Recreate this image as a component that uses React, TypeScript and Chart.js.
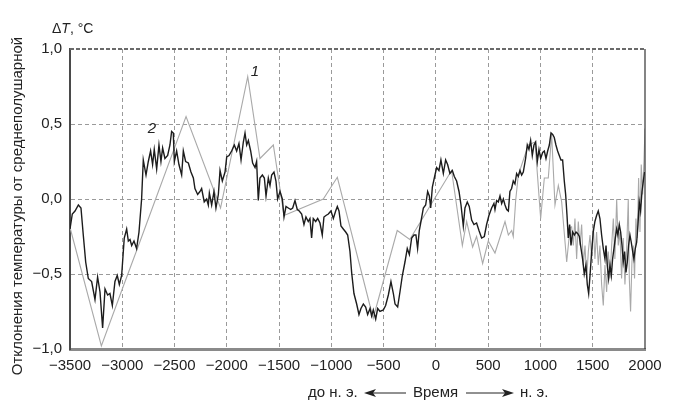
import { useEffect, useRef } from "react";
import Chart from "chart.js/auto";

const FONT = "'Liberation Sans', Arial, sans-serif";
const INK = "#222";

// кривая 1 (серая): годы и отклонения, °C
const years1 = [
  -3500, -3200, -3000, -2850, -2390, -2060, -1800, -1683, -1555, -1453,
  -1077, -943, -600, -370, -250, 150, 253, 294, 351, 389,
  447, 501, 565, 661, 693, 725, 740, 763, 788, 884,
  948, 1002, 1037, 1075, 1107, 1139, 1171, 1203, 1251, 1283,
  1298, 1314, 1330, 1346, 1362, 1378, 1394, 1410, 1426, 1442,
  1458, 1474, 1490, 1505, 1521, 1537, 1553, 1569, 1585, 1601,
  1617, 1633, 1649, 1665, 1681, 1697, 1712, 1729, 1744, 1760,
  1776, 1792, 1808, 1824, 1840, 1850, 1862, 1875, 1888, 1900,
  1913, 1926, 1939, 1952, 1964, 1977, 1990, 2000,
];
const anomaly1 = [
  -0.19, -0.98, -0.6, -0.32, 0.55, -0.06, 0.815, 0.27, 0.36, -0.11,
  0, 0.145, -0.795, -0.21, -0.27, 0.19, -0.31, -0.15, -0.32, -0.25,
  -0.43, -0.28, -0.36, -0.15, -0.24, -0.21, -0.25, -0.01, 0.16, 0.36,
  0.38, -0.13, 0.14, 0.14, 0.43, -0.04, 0.09, -0.02, -0.42, -0.19,
  -0.185, -0.31, -0.13, -0.4, -0.15, -0.31, -0.17, -0.44, -0.31, -0.53,
  -0.35, -0.24, -0.4, -0.17, -0.4, -0.22, -0.44, -0.31, -0.57, -0.71,
  -0.44, -0.62, -0.35, -0.53, -0.31, -0.13, -0.4, 0, -0.31, -0.22,
  -0.53, -0.26, -0.57, -0.35, 0, -0.53, -0.75, -0.42, -0.31, -0.53,
  -0.13, -0.26, 0.14, -0.22, 0.23, 0.03, 0.25, 0.47,
];

// кривая 2 (чёрная)
const years2 = [
  -3500, -3478, -3452, -3420, -3395, -3373, -3350, -3325, -3293, -3261,
  -3236, -3213, -3188, -3165, -3140, -3118, -3095, -3070, -3048, -3028,
  -3006, -2981, -2958, -2942, -2926, -2910, -2888, -2863, -2840, -2815,
  -2799, -2773, -2751, -2729, -2710, -2694, -2671, -2649, -2630, -2614,
  -2592, -2566, -2544, -2528, -2512, -2502, -2480, -2458, -2432, -2416,
  -2394, -2368, -2343, -2320, -2305, -2279, -2257, -2241, -2216, -2193,
  -2177, -2167, -2145, -2123, -2104, -2081, -2065, -2043, -2017, -2001,
  -1979, -1954, -1928, -1906, -1884, -1864, -1842, -1826, -1810, -1794,
  -1772, -1753, -1730, -1715, -1699, -1683, -1660, -1641, -1625, -1603,
  -1587, -1571, -1549, -1530, -1514, -1491, -1469, -1453, -1434, -1412,
  -1389, -1370, -1348, -1326, -1307, -1284, -1262, -1243, -1221, -1205,
  -1189, -1173, -1150, -1131, -1109, -1087, -1071, -1052, -1029, -1004,
  -981, -959, -943, -927, -908, -886, -863, -844, -822, -806,
  -784, -758, -736, -717, -694, -672, -653, -630, -615, -599,
  -576, -557, -535, -503, -481, -455, -430, -407, -391, -366,
  -344, -321, -296, -274, -254, -232, -210, -191, -175, -159,
  -143, -120, -98, -79, -63, -50, -34, -9, 7, 29,
  48, 71, 93, 112, 134, 157, 176, 198, 221, 240,
  262, 278, 300, 319, 342, 364, 389, 412, 437, 463,
  485, 507, 533, 555, 565, 581, 597, 613, 629, 645,
  661, 677, 693, 708, 724, 740, 756, 772, 788, 804,
  820, 836, 858, 874, 890, 906, 922, 938, 954, 970,
  986, 1002, 1021, 1037, 1053, 1069, 1085, 1101, 1117, 1132,
  1148, 1164, 1180, 1196, 1212, 1228, 1241, 1254, 1266, 1279,
  1292, 1308, 1324, 1340, 1356, 1372, 1388, 1403, 1419, 1435,
  1448, 1461, 1474, 1490, 1505, 1521, 1537, 1553, 1569, 1585,
  1601, 1617, 1627, 1639, 1652, 1665, 1678, 1690, 1703, 1716,
  1729, 1741, 1754, 1767, 1780, 1792, 1805, 1818, 1831, 1843,
  1856, 1869, 1882, 1894, 1907, 1920, 1933, 1945, 1958, 1971,
  1984, 1996,
];
const anomaly2 = [
  -0.2, -0.1, -0.08, -0.04, -0.06, -0.24, -0.42, -0.53, -0.55, -0.67,
  -0.52, -0.62, -0.86, -0.6, -0.64, -0.63, -0.71, -0.55, -0.51, -0.57,
  -0.51, -0.26, -0.2, -0.28, -0.27, -0.31, -0.28, -0.33, -0.22, 0,
  0.26, 0.16, 0.25, 0.32, 0.23, 0.33, 0.2, 0.36, 0.25, 0.34,
  0.27, 0.29, 0.36, 0.45, 0.44, 0.25, 0.32, 0.23, 0.16, 0.32,
  0.25, 0.24, 0.18, 0.14, 0.07, 0.03, 0.05, 0.07, -0.02, 0,
  -0.04, 0.04, -0.04, 0.05, -0.06, 0.03, 0.19, 0.12, 0.18, 0.28,
  0.29, 0.32, 0.36, 0.32, 0.37, 0.26, 0.38, 0.44, 0.36, 0.39,
  0.32, 0.24, 0.21, 0.25, -0.01, 0.14, 0.16, 0.14, 0.02, 0.14,
  0.09, 0.16, 0.18, 0.12, 0, 0.05, 0, -0.12, -0.05, -0.06,
  -0.07, -0.06, -0.01, -0.07, -0.08, -0.1, -0.17, -0.12, -0.15, -0.13,
  -0.26, -0.13, -0.15, -0.13, -0.16, -0.24, -0.12, -0.11, -0.1, -0.08,
  -0.13, -0.08, -0.05, -0.08, -0.18, -0.2, -0.22, -0.24, -0.35, -0.49,
  -0.63, -0.7, -0.77, -0.73, -0.7, -0.72, -0.77, -0.73, -0.78, -0.74,
  -0.8, -0.73, -0.75, -0.74, -0.71, -0.64, -0.55, -0.63, -0.7, -0.72,
  -0.62, -0.51, -0.42, -0.33, -0.37, -0.26, -0.24, -0.24, -0.33, -0.21,
  -0.15, -0.06, -0.04, 0.05, 0.02, -0.06, 0.08, 0.16, 0.21, 0.19,
  0.26, 0.17, 0.26, 0.23, 0.17, 0.19, 0.15, 0.12, 0.05, -0.04,
  -0.18, -0.06, -0.02, -0.05, -0.14, -0.17, -0.16, -0.21, -0.26, -0.25,
  -0.17, -0.11, -0.06, -0.03, -0.07, -0.01, -0.02, 0.02, -0.03, 0,
  -0.04, -0.07, -0.08, 0.05, 0.07, 0.12, 0.1, 0.17, 0.15, 0.19,
  0.16, 0.18, 0.27, 0.36, 0.33, 0.39, 0.29, 0.36, 0.38, 0.25,
  0.33, 0.27, 0.31, 0.32, 0.27, 0.32, 0.36, 0.44, 0.43, 0.41,
  0.36, 0.32, 0.29, 0.26, 0.26, 0.12, 0.03, -0.11, -0.26, -0.17,
  -0.31, -0.22, -0.24, -0.22, -0.23, -0.25, -0.33, -0.4, -0.5, -0.44,
  -0.57, -0.63, -0.51, -0.35, -0.22, -0.15, -0.11, -0.08, -0.13, -0.24,
  -0.33, -0.4, -0.31, -0.44, -0.53, -0.44, -0.51, -0.4, -0.33, -0.26,
  -0.2, -0.24, -0.17, -0.22, -0.31, -0.42, -0.35, -0.49, -0.42, -0.31,
  -0.24, -0.29, -0.35, -0.4, -0.33, -0.29, -0.17, -0.02, -0.08, 0.05,
  0.12, 0.18,
];

const pairs = (xs: number[], ys: number[]) =>
  xs.slice(0, Math.min(xs.length, ys.length)).map((x, i) => ({ x, y: ys[i] }));

const comma = (v: number, digits: number) => v.toFixed(digits).replace(".", ",").replace("-", "\u2212");

// рамка, подписи осей, номера кривых, «Время»
const decor = {
  id: "decor",
  afterDraw(chart: any) {
    const { ctx, chartArea: a, scales } = chart;
    ctx.save();
    // верхняя пунктирная и правая сплошная границы
    ctx.strokeStyle = "#6a6a6a";
    ctx.lineWidth = 2;
    ctx.setLineDash([4, 2]);
    ctx.beginPath();
    ctx.moveTo(a.left, a.top);
    ctx.lineTo(a.right, a.top);
    ctx.stroke();
    ctx.setLineDash([]);
    ctx.strokeStyle = "#333";
    ctx.lineWidth = 1.2;
    ctx.beginPath();
    ctx.moveTo(a.right, a.top);
    ctx.lineTo(a.right, a.bottom);
    ctx.stroke();

    ctx.fillStyle = INK;
    ctx.textBaseline = "alphabetic";
    // ΔT, °C
    ctx.textAlign = "left";
    ctx.font = `14px ${FONT}`;
    let x = 52;
    ctx.fillText("\u0394", x, 33);
    x += ctx.measureText("\u0394").width;
    ctx.font = `italic 14px ${FONT}`;
    ctx.fillText("T", x, 33);
    x += ctx.measureText("T").width;
    ctx.font = `14px ${FONT}`;
    ctx.fillText(", \u00B0C", x, 33);

    // вертикальный заголовок
    ctx.save();
    ctx.translate(18, 206);
    ctx.rotate(-Math.PI / 2);
    ctx.textAlign = "center";
    ctx.textBaseline = "middle";
    ctx.font = `15px ${FONT}`;
    ctx.fillText("Отклонения температуры от среднеполушарной", 0, 0);
    ctx.restore();

    // номера кривых
    ctx.font = `italic 15px ${FONT}`;
    ctx.textAlign = "center";
    ctx.textBaseline = "middle";
    ctx.fillText("1", scales.x.getPixelForValue(-1730), scales.y.getPixelForValue(0.85));
    ctx.fillText("2", scales.x.getPixelForValue(-2716), scales.y.getPixelForValue(0.47));

    // до н. э. ← Время → н. э.
    const cy = 393;
    ctx.font = `15px ${FONT}`;
    ctx.textAlign = "left";
    ctx.fillText("до н. э.", 308, cy);
    ctx.fillText("Время", 413, cy);
    ctx.fillText("н. э.", 520, cy);
    ctx.strokeStyle = INK;
    ctx.lineWidth = 1;
    ctx.beginPath();
    ctx.moveTo(368, cy);
    ctx.lineTo(406, cy);
    ctx.moveTo(466, cy);
    ctx.lineTo(508, cy);
    ctx.stroke();
    ctx.beginPath();
    ctx.moveTo(364, cy);
    ctx.lineTo(376, cy - 4);
    ctx.lineTo(373, cy);
    ctx.lineTo(376, cy + 4);
    ctx.closePath();
    ctx.moveTo(514, cy);
    ctx.lineTo(502, cy - 4);
    ctx.lineTo(505, cy);
    ctx.lineTo(502, cy + 4);
    ctx.closePath();
    ctx.fill();
    ctx.restore();
  },
};

export default function App() {
  const ref = useRef<HTMLCanvasElement>(null);
  useEffect(() => {
    if (!ref.current) return;
    const chart = new Chart(ref.current, {
      type: "scatter",
      data: {
        datasets: [
          {
            data: pairs(years2, anomaly2),
            showLine: true,
            borderColor: "#1c1c1c",
            borderWidth: 1.4,
            pointRadius: 0,
            order: 1,
          },
          {
            data: pairs(years1, anomaly1),
            showLine: true,
            borderColor: "#a9a9a9",
            borderWidth: 1.1,
            pointRadius: 0,
            order: 2,
          },
        ],
      },
      options: {
        animation: false,
        responsive: true,
        maintainAspectRatio: false,
        layout: { padding: { top: 49, right: 40, left: 0, bottom: 0 } },
        plugins: { legend: { display: false }, tooltip: { enabled: false } },
        scales: {
          x: {
            type: "linear",
            min: -3500,
            max: 2000,
            afterFit: (s: any) => {
              s.height = 61;
            },
            ticks: {
              stepSize: 500,
              padding: 8,
              color: INK,
              font: { family: FONT, size: 15 },
              callback: (v: any) => String(v).replace("-", "\u2212"),
            },
            grid: {
              drawTicks: false,
              color: (c: any) => (c.tick && (c.tick.value === -3500 || c.tick.value === 2000) ? "rgba(0,0,0,0)" : "#9a9a9a"),
              lineWidth: 1,
            },
            border: { color: "#8a8a8a", width: 3, dash: [4, 3] },
          },
          y: {
            min: -1,
            max: 1,
            afterFit: (s: any) => {
              s.width = 70;
            },
            ticks: {
              stepSize: 0.5,
              padding: 8,
              color: INK,
              font: { family: FONT, size: 15 },
              callback: (v: any) => comma(Number(v), 1),
            },
            grid: {
              drawTicks: false,
              color: (c: any) => (c.tick && (c.tick.value === 1 || c.tick.value === -1) ? "rgba(0,0,0,0)" : "#9a9a9a"),
              lineWidth: 1,
            },
            border: { color: "#4a4a4a", width: 2, dash: [4, 3] },
          },
        },
      },
      plugins: [decor],
    });
    return () => chart.destroy();
  }, []);
  return (
    <div style={{ position: "absolute", left: 0, top: 0, width: 685, height: 410, background: "#fff" }}>
      <canvas ref={ref} />
    </div>
  );
}
